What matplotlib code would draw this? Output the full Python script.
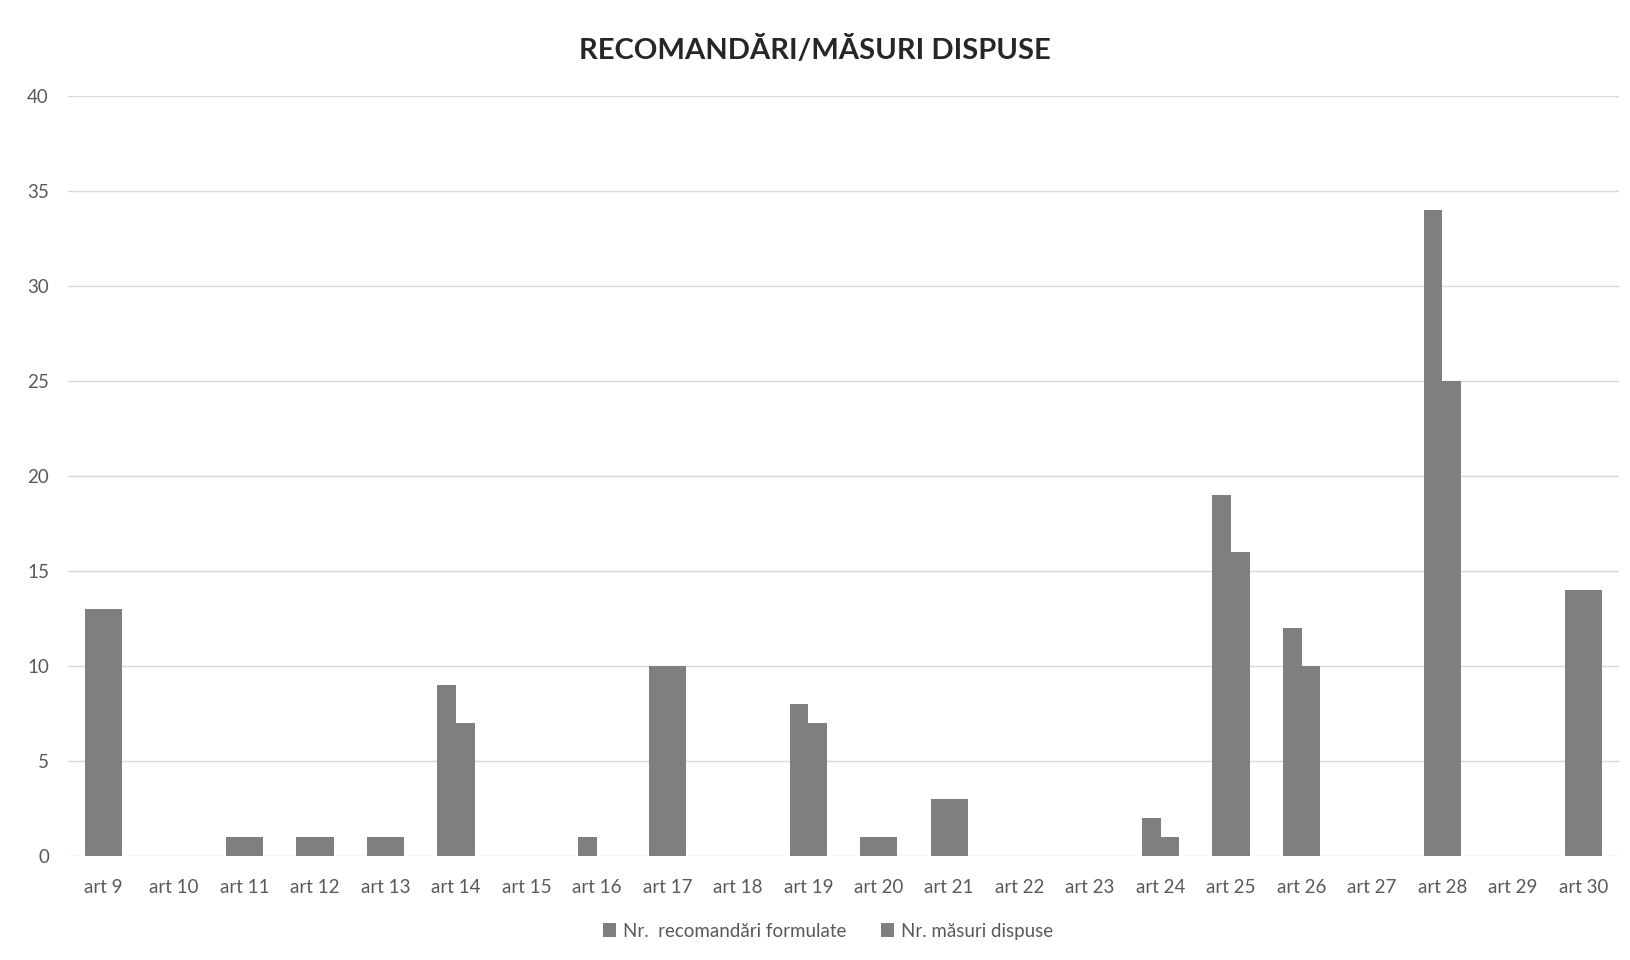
import matplotlib.pyplot as plt
import numpy as np

plt.rcParams['font.family'] = ['Lato', 'DejaVu Sans']

categories = ['art 9', 'art 10', 'art 11', 'art 12', 'art 13', 'art 14', 'art 15',
              'art 16', 'art 17', 'art 18', 'art 19', 'art 20', 'art 21', 'art 22',
              'art 23', 'art 24', 'art 25', 'art 26', 'art 27', 'art 28', 'art 29',
              'art 30']
recomandari = [13, 0, 1, 1, 1, 9, 0, 1, 10, 0, 8, 1, 3, 0, 0, 2, 19, 12, 0, 34, 0, 14]
masuri = [13, 0, 1, 1, 1, 7, 0, 0, 10, 0, 7, 1, 3, 0, 0, 1, 16, 10, 0, 25, 0, 14]
yticks = [0, 5, 10, 15, 20, 25, 30, 35, 40]

bar_color = '#7f7f7f'
text_color = '#595959'

fig = plt.figure(figsize=(16.3, 9.6), dpi=100)
ax = fig.add_axes([0.042, 0.108, 0.951, 0.792])

x = np.arange(len(categories))
w = 0.265
ax.bar(x - w / 2, recomandari, width=w, color=bar_color,
       label='Nr.  recomandări formulate', zorder=3)
ax.bar(x + w / 2, masuri, width=w, color=bar_color,
       label='Nr. măsuri dispuse', zorder=3)

ax.set_xlim(-0.5, len(categories) - 0.5)
ax.set_ylim(0, 40)
ax.set_yticks(yticks)
ax.set_xticks(x)
ax.set_xticklabels(categories)
ax.grid(axis='y', color='#d9d9d9', linewidth=1, zorder=0)
for s in ax.spines.values():
    s.set_visible(False)
ax.tick_params(axis='both', length=0, colors=text_color, labelsize=13.5)
ax.tick_params(axis='x', pad=16)
ax.tick_params(axis='y', pad=14)

fig.suptitle('RECOMANDĂRI/MĂSURI DISPUSE', y=0.962, fontsize=21,
             fontweight='bold', color='#262626')

leg = ax.legend(loc='upper center', bbox_to_anchor=(0.49, -0.065), ncol=2,
                frameon=False, fontsize=13.5, handlelength=0.7, handleheight=0.7,
                columnspacing=1.8, handletextpad=0.4)
for t in leg.get_texts():
    t.set_color(text_color)

fig.savefig('out.png', dpi=100)
